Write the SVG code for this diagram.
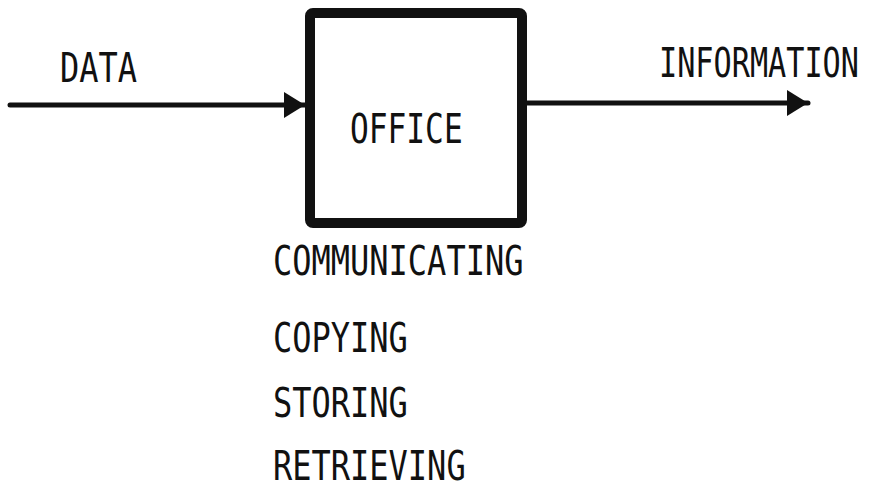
<svg xmlns="http://www.w3.org/2000/svg" width="874" height="489" viewBox="0 0 874 489">
<style>
.t{font-family:"DejaVu Sans Mono","Liberation Mono",monospace;font-size:40px;fill:#111;}
.c{stroke:#111;stroke-width:5;fill:none;stroke-linecap:round;}
</style>
<defs>
<marker id="ah" markerUnits="userSpaceOnUse" markerWidth="22" markerHeight="26" refX="21" refY="13" orient="auto" viewBox="0 0 22 26">
<path d="M0,0 L21,13 L0,26 Z" fill="#111"/>
</marker>
</defs>
<rect width="874" height="489" fill="#fff"/>
<g id="connectors">
<line class="c" x1="10" y1="105" x2="305" y2="105" marker-end="url(#ah)"/>
<line class="c" x1="527" y1="103" x2="808" y2="103" marker-end="url(#ah)"/>
</g>
<g id="office">
<rect x="310" y="13" width="212" height="210" rx="3" fill="none" stroke="#111" stroke-width="10"/>
<text class="t" transform="translate(350,143) scale(0.78,1)">OFFICE</text>
</g>
<g id="data"><text class="t" transform="translate(60,82) scale(0.8,1)">DATA</text></g>
<g id="information"><text class="t" transform="translate(659,77) scale(0.755,1)">INFORMATION</text></g>
<g id="functions">
<text class="t" transform="translate(273,275) scale(0.8,1)">COMMUNICATING</text>
<text class="t" transform="translate(273,352) scale(0.8,1)">COPYING</text>
<text class="t" transform="translate(273,417) scale(0.8,1)">STORING</text>
<text class="t" transform="translate(273,480) scale(0.8,1)">RETRIEVING</text>
</g>
</svg>
